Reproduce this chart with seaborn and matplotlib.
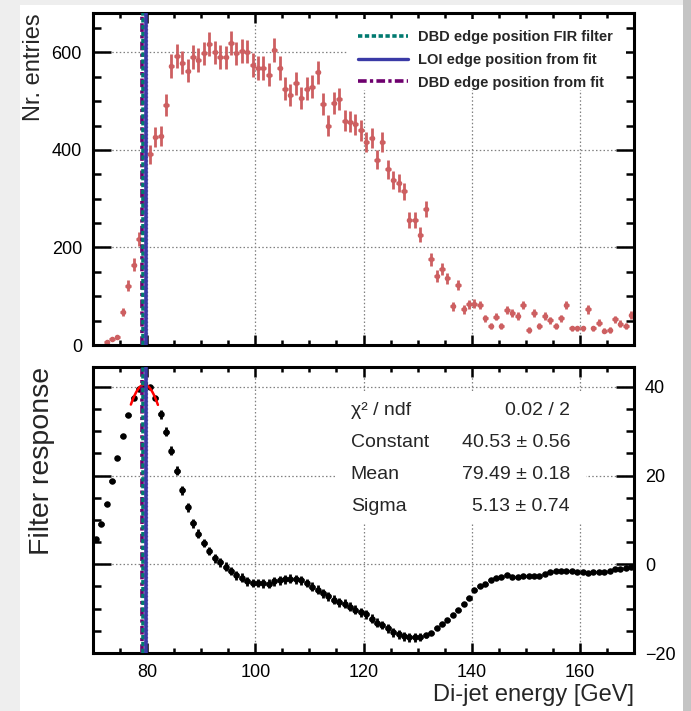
import numpy as np
import pandas as pd
import matplotlib
matplotlib.use("Agg")
import matplotlib.pyplot as plt
import seaborn as sns
from matplotlib.patches import Rectangle
from matplotlib.ticker import MultipleLocator
from matplotlib.lines import Line2D

sns.set_theme(style="white")
plt.rcParams['font.family'] = ['Liberation Sans', 'DejaVu Sans']

# ---------------- data ----------------
top_first_bin = 72.5
top_counts = [7, 12, 16, 68, 122, 165, 217, 300, 391, 427,
              429, 492, 572, 593, 579, 563, 591, 585, 598, 617,
              600, 591, 590, 619, 598, 604, 602, 574, 568, 568,
              554, 605, 568, 526, 513, 537, 506, 526, 530, 559,
              494, 450, 497, 504, 460, 458, 453, 440, 417, 424,
              380, 417, 360, 339, 333, 315, 256, 256, 226, 279,
              176, 142, 156, 137, 79, 123, 73, 84, 85, 82,
              55, 38, 58, 38, 72, 65, 59, 82, 31, 65,
              38, 59, 51, 38, 55, 82, 34, 34, 34, 73,
              34, 46, 29, 31, 53, 44, 39, 62]

bottom_first_bin = 70.5
bottom_resp = [5.8, 9.2, 13.5, 18.7, 24.0, 28.9, 33.6, 37.6, 39.6, 40.6,
               40.0, 37.5, 33.8, 29.9, 25.6, 21.1, 16.7, 12.9, 9.3, 6.9,
               4.8, 3.0, 1.4, 0.5, -0.5, -1.5, -2.5, -3.0, -3.8, -4.2,
               -4.2, -4.3, -4.4, -3.8, -3.6, -3.4, -3.2, -3.4, -3.6, -4.2,
               -5.1, -5.7, -6.5, -7.2, -8.0, -8.6, -8.9, -9.6, -10.2, -10.8,
               -11.3, -12.3, -13.2, -13.7, -14.4, -15.3, -15.8, -16.2, -16.5, -16.5,
               -16.4, -16.0, -15.4, -14.3, -13.4, -12.5, -11.5, -10.4, -8.9, -7.5,
               -5.9, -5.0, -4.4, -3.6, -3.0, -2.9, -2.5, -2.9, -2.9, -2.7,
               -2.7, -2.7, -2.6, -2.1, -1.7, -1.5, -1.5, -1.5, -1.5, -1.7,
               -1.8, -2.0, -1.7, -1.7, -1.7, -1.4, -1.05, -1.05, -0.9, -0.6]
bottom_err = [0.3, 0.3, 0.3, 0.3, 0.3, 0.3, 0.3, 0.3, 0.5, 0.5,
              0.5, 0.5, 1.0, 1.0, 1.0, 1.0, 1.0, 1.0, 1.0, 1.0,
              1.0, 1.0, 1.0, 1.0, 1.0, 1.0, 1.0, 1.0, 1.0, 1.0,
              1.0, 1.0, 1.0, 1.0, 1.0, 1.0, 1.0, 1.0, 1.0, 1.0,
              1.0, 1.0, 1.0, 1.0, 1.0, 1.0, 1.0, 1.0, 1.0, 1.0,
              1.0, 1.0, 1.0, 1.0, 1.0, 1.0, 1.0, 1.0, 1.0, 1.0,
              0.8, 0.6, 0.3, 0.3, 0.3, 0.3, 0.3, 0.3, 0.3, 0.3,
              0.3, 0.3, 0.3, 0.3, 0.3, 0.3, 0.3, 0.3, 0.3, 0.3,
              0.3, 0.3, 0.3, 0.3, 0.3, 0.3, 0.3, 0.3, 0.3, 0.3,
              0.3, 0.3, 0.3, 0.3, 0.3, 0.3, 0.3, 0.3, 0.3, 0.3]

edge_fir_dbd = 79.25
edge_fit_loi = 79.85
edge_fit_dbd = 79.0
legend_labels = ["DBD edge position FIR filter",
                 "LOI edge position from fit",
                 "DBD edge position from fit"]

fit_const, fit_mean, fit_sigma = 40.53, 79.49, 5.13
fit_lo, fit_hi = 77.0, 82.0
stats_labels = ["\u03c7\u00b2 / ndf", "Constant", "Mean", "Sigma"]
stats_values = ["0.02 / 2", "40.53 \u00b1 0.56", "79.49 \u00b1 0.18", "5.13 \u00b1 0.74"]
stats_rows_y = [34.7, 27.5, 20.3, 13.1]

x_label = "Di-jet energy [GeV]"
top_ylabel = "Nr. entries"
bottom_ylabel = "Filter response"

# ---------------- derived frames ----------------
top_df = pd.DataFrame({"E": top_first_bin + np.arange(len(top_counts)),
                       "N": np.array(top_counts, dtype=float)})
top_df["err"] = np.sqrt(top_df["N"])
bot_df = pd.DataFrame({"E": bottom_first_bin + np.arange(len(bottom_resp)),
                       "R": bottom_resp, "err": bottom_err})
fx = np.linspace(fit_lo, fit_hi, 120)
fit_df = pd.DataFrame({"E": fx,
                       "R": fit_const * np.exp(-0.5 * ((fx - fit_mean) / fit_sigma) ** 2)})

# ---------------- style ----------------
W, H = 691, 711
RED = "#cd5f61"
TEAL = "#007a70"
BLUE = "#3a3aa6"
PURPLE = "#6e006e"

fig = plt.figure(figsize=(W / 100, H / 100), dpi=100, facecolor="#eeeeee")
fig.patches.append(Rectangle((20 / W, 0), (683 - 20) / W, (H - 5) / H,
                             transform=fig.transFigure, facecolor="white",
                             edgecolor="none", zorder=-10))
fig.patches.append(Rectangle((683 / W, 0), 8 / W, 1, transform=fig.transFigure,
                             facecolor="#c4c4c4", edgecolor="none", zorder=-10))

ax1 = fig.add_axes([93 / W, 1 - 345 / H, 541 / W, 332 / H])
ax2 = fig.add_axes([93 / W, 1 - 653 / H, 541 / W, 286 / H])

grid_kw = dict(color="#808080", linestyle=(0, (1.2, 1.8)), linewidth=0.9)

for ax in (ax1, ax2):
    ax.set_facecolor("white")
    ax.set_axisbelow(True)
    ax.set_xlim(70, 170)
    ax.xaxis.set_major_locator(MultipleLocator(20))
    ax.xaxis.set_minor_locator(MultipleLocator(5))
    ax.grid(True, which="major", **grid_kw)
    for s in ax.spines.values():
        s.set_linewidth(2.2)
        s.set_color("black")
        s.set_visible(True)
    ax.tick_params(which="both", direction="in", top=True, right=True,
                   bottom=True, left=True, colors="black", width=1.8,
                   labelsize=13, pad=8)
    ax.tick_params(axis="x", which="major", length=7)
    ax.tick_params(axis="x", which="minor", length=3.3)
    ax.tick_params(axis="y", which="major", length=13)
    ax.tick_params(axis="y", which="minor", length=6)

# ---- top panel ----
ax1.set_ylim(0, 681)
ax1.yaxis.set_major_locator(MultipleLocator(200))
ax1.yaxis.set_minor_locator(MultipleLocator(50))
ax1.tick_params(labelbottom=False)
ax1.errorbar(top_df["E"], top_df["N"], yerr=top_df["err"], xerr=0.5,
             fmt="none", ecolor=RED, elinewidth=2.0, capsize=0, zorder=2)
sns.scatterplot(data=top_df, x="E", y="N", ax=ax1, color=RED, s=16,
                linewidth=0, zorder=2.1, legend=False)
ax1.add_patch(Rectangle((116.9, 523), 170 - 116.9 - 1.5, 669 - 523,
                        facecolor="white", edgecolor="none", zorder=0.7))

line_kw = dict(linewidth=2.6, zorder=3)
for ax in (ax1, ax2):
    ax.axvline(edge_fit_dbd, color=PURPLE, dashes=(2.4, 0.9, 0.9, 0.9), **line_kw)
    ax.axvline(edge_fir_dbd, color=TEAL, dashes=(1.2, 0.7), **line_kw)
    ax.axvline(edge_fit_loi, color=BLUE, **line_kw)

handles = [Line2D([], [], color=TEAL, dashes=(1.2, 0.7), linewidth=2.6),
           Line2D([], [], color=BLUE, linewidth=2.4),
           Line2D([], [], color=PURPLE, dashes=(2.4, 0.9, 0.9, 0.9), linewidth=2.6)]
leg = ax1.legend(handles, legend_labels, loc="upper left",
                 bbox_to_anchor=((358 - 93) / 541, (345 - 30) / 332),
                 frameon=False, borderpad=0, borderaxespad=0,
                 handlelength=3.43, handletextpad=0.69, labelspacing=0.6,
                 prop={"weight": "bold", "size": 10.5})
leg.set_zorder(5)
ax1.set_ylabel(top_ylabel, loc="top", fontsize=17, labelpad=5)
ax1.set_xlabel("")

# ---- bottom panel ----
ax2.set_ylim(-20, 44.5)
ax2.yaxis.set_major_locator(MultipleLocator(20))
ax2.yaxis.set_minor_locator(MultipleLocator(5))
ax2.tick_params(labelleft=False, labelright=True)
ax2.yaxis.set_label_position("left")
ax2.errorbar(bot_df["E"], bot_df["R"], yerr=bot_df["err"], xerr=0.5,
             fmt="none", ecolor="black", elinewidth=2.0, capsize=0, zorder=2)
sns.scatterplot(data=bot_df, x="E", y="R", ax=ax2, color="black", s=22,
                linewidth=0, zorder=2.1, legend=False)
sns.lineplot(data=fit_df, x="E", y="R", ax=ax2, color="red", linewidth=1.8,
             zorder=2.5, legend=False)
ax2.add_patch(Rectangle((115.1, 9.25), 161.1 - 115.1, 38.6 - 9.25,
                        facecolor="white", edgecolor="none", zorder=0.7))
for lab, val, yy in zip(stats_labels, stats_values, stats_rows_y):
    ax2.text(117.66, yy, lab, ha="left", va="center", fontsize=14, zorder=6)
    ax2.text(158.18, yy, val, ha="right", va="center", fontsize=14, zorder=6)
ax2.set_ylabel(bottom_ylabel, loc="top", fontsize=20.5, labelpad=19)
ax2.set_xlabel(x_label, loc="right", fontsize=17, labelpad=2)

fig.savefig("out.png", dpi=100, facecolor=fig.get_facecolor())
